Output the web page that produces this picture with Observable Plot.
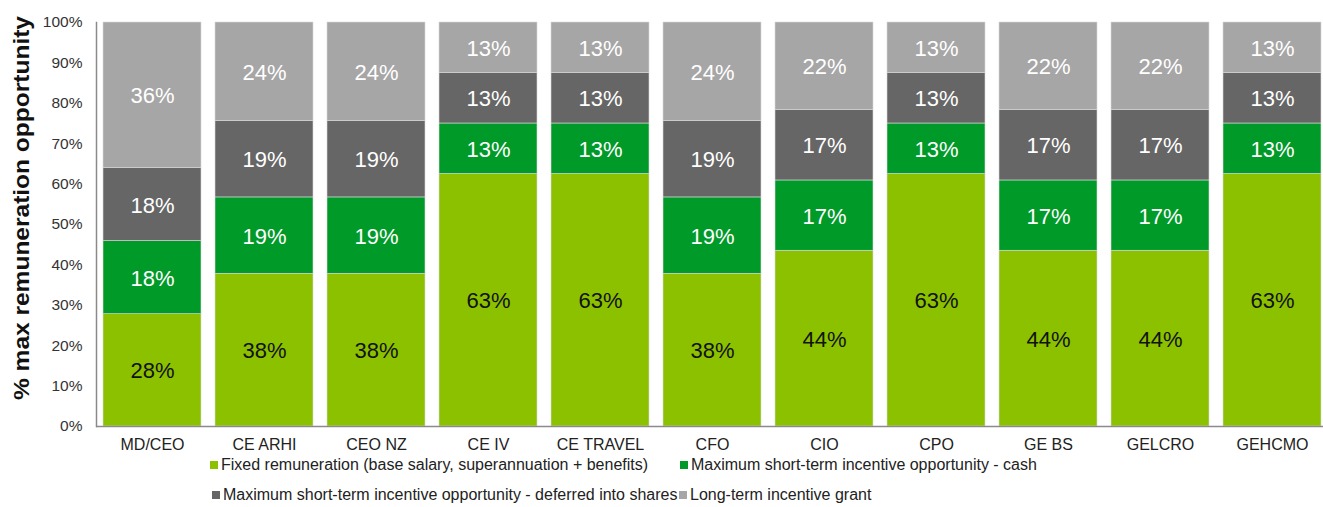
<!DOCTYPE html>
<html>
<head>
<meta charset="utf-8">
<script src="https://cdn.jsdelivr.net/npm/d3@7"></script>
<script src="https://cdn.jsdelivr.net/npm/@observablehq/plot@0.6"></script>
<style>
  body { margin: 0; background: #fff; font-family: "Liberation Sans", Arial, sans-serif; }
  #wrap { position: relative; width: 1323px; height: 507px; overflow: hidden; }
  #wrap svg { position: absolute; left: 0; top: 0; }
  #legend { position: absolute; left: 0; top: 456px; width: 1323px; height: 51px; font-size: 16px; color: #222; }
  .item { position: absolute; white-space: nowrap; display: flex; align-items: center; line-height: 18px; }
  .sw { width: 8px; height: 8px; margin-right: 3px; display: inline-block; }
</style>
</head>
<body>
<div id="wrap"></div>
<script>
const categories = ["MD/CEO", "CE ARHI", "CEO NZ", "CE IV", "CE TRAVEL", "CFO", "CIO", "CPO", "GE BS", "GELCRO", "GEHCMO"];
const seriesNames = [
  "Fixed remuneration (base salary, superannuation + benefits)",
  "Maximum short-term incentive opportunity - cash",
  "Maximum short-term incentive opportunity - deferred into shares",
  "Long-term incentive grant"
];
const fixedValues    = [27.8, 37.8, 37.8, 62.5, 62.5, 37.8, 43.5, 62.5, 43.5, 43.5, 62.5];
const stiCashValues  = [18.1, 18.9, 18.9, 12.5, 12.5, 18.9, 17.4, 12.5, 17.4, 17.4, 12.5];
const stiSharesValues= [18.1, 18.9, 18.9, 12.5, 12.5, 18.9, 17.4, 12.5, 17.4, 17.4, 12.5];
const ltiValues      = [36.0, 24.4, 24.4, 12.5, 12.5, 24.4, 21.7, 12.5, 21.7, 21.7, 12.5];
const yTicks = [0, 10, 20, 30, 40, 50, 60, 70, 80, 90, 100];
const colors = ["#8CC100", "#009A29", "#666666", "#A6A6A6"];
const labelColors = ["#111111", "#ffffff", "#ffffff", "#ffffff"];

const seriesValues = [fixedValues, stiCashValues, stiSharesValues, ltiValues];
const data = [];
seriesNames.forEach((s, si) => {
  categories.forEach((c, ci) => {
    data.push({category: c, series: s, si, value: seriesValues[si][ci]});
  });
});

const chart = Plot.plot({
  width: 1323,
  height: 458,
  marginLeft: 96,
  marginRight: -5,
  marginTop: 22,
  marginBottom: 32,
  style: {fontFamily: "'Liberation Sans', Arial, sans-serif", background: "transparent"},
  x: {domain: categories, paddingInner: 0.125, paddingOuter: 0.0625, label: null},
  y: {domain: [0, 100], label: null},
  color: {domain: seriesNames, range: colors},
  marks: [
    Plot.barY(data, {x: "category", y: "value", fill: "series", order: seriesNames, stroke: "#d9d9d9", strokeWidth: 0.6}),
    Plot.text(data, Plot.stackY({
      x: "category", y: "value", z: "series", order: seriesNames,
      text: d => Math.round(d.value) + "%",
      fill: d => labelColors[d.si],
      fontSize: 22,
      dy: 1
    })),
    Plot.axisY({ticks: yTicks, tickSize: 0, tickPadding: 14, tickFormat: d => d + "%", fontSize: 15.5, fill: "#333", label: null}),
    Plot.axisX({tickSize: 0, tickPadding: 12, fontSize: 16, fill: "#222", label: null}),
    Plot.frame({anchor: "left", stroke: "#8a8a8a", strokeWidth: 1.5}),
    Plot.ruleY([0], {stroke: "#8a8a8a", strokeWidth: 1.5})
  ]
});

const wrap = document.getElementById("wrap");
wrap.appendChild(chart);

// y axis title
const svg = d3.select(chart);
svg.append("text")
  .attr("transform", `translate(29, 208) rotate(-90)`)
  .attr("text-anchor", "middle")
  .attr("font-size", 22)
  .attr("font-weight", "bold")
  .attr("fill", "#111")
  .attr("textLength", 384)
  .attr("lengthAdjust", "spacingAndGlyphs")
  .attr("font-family", "'Liberation Sans', Arial, sans-serif")
  .text("% max remuneration opportunity");

// legend
const legend = document.createElement("div");
legend.id = "legend";
const positions = [[210, 0], [680, 0], [212, 30], [679, 30]];
seriesNames.forEach((s, i) => {
  const it = document.createElement("div");
  it.className = "item";
  it.style.left = positions[i][0] + "px";
  it.style.top = positions[i][1] + "px";
  const sw = document.createElement("span");
  sw.className = "sw";
  sw.style.background = colors[i];
  const t = document.createElement("span");
  t.textContent = s;
  it.appendChild(sw);
  it.appendChild(t);
  legend.appendChild(it);
});
wrap.appendChild(legend);
</script>
</body>
</html>
